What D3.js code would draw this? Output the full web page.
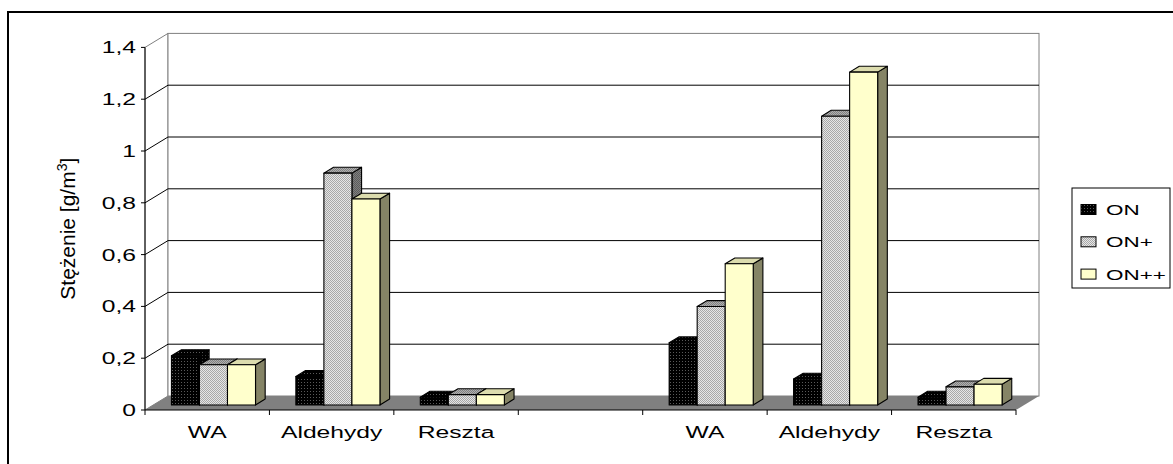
<!DOCTYPE html>
<html>
<head>
<meta charset="utf-8">
<script src="https://cdn.jsdelivr.net/npm/d3@7"></script>
<style>
  body { margin: 0; background: #fff; }
  text { font-family: "Liberation Sans", Arial, sans-serif; fill: #000; }
</style>
</head>
<body>
<div id="chart"></div>
<script>
// data
const categories = ["WA", "Aldehydy", "Reszta", "", "WA", "Aldehydy", "Reszta"];
const series = ["ON", "ON+", "ON++"];
const valuesON   = [0.19, 0.11, 0.03, null, 0.24, 0.10, 0.03];
const valuesONp  = [0.155, 0.895, 0.04, null, 0.38, 1.115, 0.07];
const valuesONpp = [0.155, 0.795, 0.04, null, 0.545, 1.285, 0.08];
const yTicks = [0, 0.2, 0.4, 0.6, 0.8, 1, 1.2, 1.4];
const allValues = [valuesON, valuesONp, valuesONpp];

const W = 1173, H = 464;
const SX = 1.45;            // the picture is stretched sideways, text too
const DX = 23, DY = 14;     // depth of the 3d box
const f0 = 0.36, f1 = 0.78; // bar front / back depth
const fmt = v => String(v).replace(".", ",");

const svg = d3.select("#chart").append("svg")
    .attr("width", W).attr("height", H);

const defs = svg.append("defs");
function pat(id, size, bg, dots, fg) {
    const p = defs.append("pattern").attr("id", id)
        .attr("width", size).attr("height", size)
        .attr("patternUnits", "userSpaceOnUse");
    p.append("rect").attr("width", size).attr("height", size).attr("fill", bg);
    dots.forEach(([x, y]) => p.append("rect").attr("x", x).attr("y", y)
        .attr("width", 1).attr("height", 1).attr("fill", fg));
}
pat("on", 3, "#000", [[1, 1]], "#5a5a5a");
pat("onside", 3, "#000", [[1, 1]], "#3a3a3a");
pat("onp", 2, "#e6e6e6", [[0, 0], [1, 1]], "#a8a8a8");
pat("onptop", 2, "#b0b0b0", [[0, 0], [1, 1]], "#808080");
pat("onpside", 2, "#808080", [[0, 0], [1, 1]], "#5c5c5c");

const faces = {
    "ON":   {front: "url(#on)",  top: "url(#on)",     side: "url(#onside)"},
    "ON+":  {front: "url(#onp)", top: "url(#onptop)", side: "url(#onpside)"},
    "ON++": {front: "#ffffcc",   top: "#dcdcae",      side: "#858466"}
};

// outer frame (cut off at right and bottom)
svg.append("rect")
    .attr("x", 8).attr("y", 12).attr("width", W + 20).attr("height", H + 20)
    .attr("fill", "none").attr("stroke", "#000").attr("stroke-width", 2);

const x = d3.scaleBand().domain(d3.range(categories.length)).range([145, 1016]);
const xs = d3.scaleBand().domain(series).range([0, x.bandwidth()])
    .paddingOuter(0.72).align(0.45);
const y = d3.scaleLinear().domain([0, 1.4]).range([410, 47.4]);

const x0 = x.range()[0], x1 = x.range()[1];
const yTop = y(1.4), yBot = y(0);

// walls
svg.append("polygon")
    .attr("points", [[x0, yBot], [x0 + DX, yBot - DY], [x0 + DX, yTop - DY], [x0, yTop]].join(" "))
    .attr("fill", "#fff").attr("stroke", "#808080");
svg.append("rect")
    .attr("x", x0 + DX).attr("y", yTop - DY)
    .attr("width", x1 - x0).attr("height", yBot - yTop)
    .attr("fill", "#fff").attr("stroke", "#808080");

// gridlines
const grid = svg.append("g");
yTicks.filter(v => v > 0 && v < 1.4).forEach(v => {
    grid.append("line")
        .attr("x1", x0).attr("y1", y(v)).attr("x2", x0 + DX).attr("y2", y(v) - DY)
        .attr("stroke", "#000");
    grid.append("line")
        .attr("x1", x0 + DX).attr("y1", y(v) - DY).attr("x2", x1 + DX).attr("y2", y(v) - DY)
        .attr("stroke", "#000");
});

// floor
svg.append("polygon")
    .attr("points", [[x0, yBot], [x1, yBot], [x1 + DX, yBot - DY], [x0 + DX, yBot - DY]].join(" "))
    .attr("fill", "#808080");

// axes
svg.append("line").attr("x1", x0).attr("x2", x0).attr("y1", yTop).attr("y2", yBot)
    .attr("stroke", "#000");
svg.append("line").attr("x1", x0).attr("x2", x1).attr("y1", yBot).attr("y2", yBot)
    .attr("stroke", "#000");
yTicks.forEach(v => {
    svg.append("line").attr("x1", x0 - 4).attr("x2", x0).attr("y1", y(v)).attr("y2", y(v))
        .attr("stroke", "#000");
    svg.append("text")
        .attr("transform", `translate(${x0 - 9},${y(v) + 6}) scale(${SX},1)`)
        .attr("text-anchor", "end")
        .style("font-size", "17px")
        .text(fmt(v));
});
d3.range(categories.length + 1).forEach(i => {
    const xx = x0 + i * x.step();
    svg.append("line").attr("x1", xx).attr("x2", xx).attr("y1", yBot).attr("y2", yBot + 5)
        .attr("stroke", "#000");
});
categories.forEach((c, i) => {
    svg.append("text")
        .attr("transform", `translate(${x(i) + x.bandwidth() / 2},${438}) scale(${SX},1)`)
        .attr("text-anchor", "middle")
        .style("font-size", "17px")
        .text(c);
});

// y title
const title = svg.append("text")
    .attr("transform", `translate(75,${(yTop + yBot) / 2}) rotate(-90)`)
    .attr("text-anchor", "middle")
    .style("font-size", "21px");
title.append("tspan").text("Stężenie [g/m");
title.append("tspan").attr("dy", -8).style("font-size", "14px").text("3");
title.append("tspan").attr("dy", 8).text("]");

// bars, left to right so the next bar hides the side of the previous one
const bars = svg.append("g").attr("stroke", "#000").attr("stroke-width", 1.1)
    .attr("stroke-linejoin", "round");
categories.forEach((c, i) => {
    series.forEach((s, k) => {
        const v = allValues[k][i];
        if (v == null) return;
        const bw = xs.bandwidth();
        const ax = x(i) + xs(s) + f0 * DX;
        const ay = y(v) - f0 * DY;
        const by = yBot - f0 * DY;
        const ddx = (f1 - f0) * DX, ddy = (f1 - f0) * DY;
        bars.append("polygon")
            .attr("points", [[ax + bw, ay], [ax + bw + ddx, ay - ddy], [ax + bw + ddx, by - ddy], [ax + bw, by]].join(" "))
            .attr("fill", faces[s].side);
        bars.append("polygon")
            .attr("points", [[ax, ay], [ax + ddx, ay - ddy], [ax + bw + ddx, ay - ddy], [ax + bw, ay]].join(" "))
            .attr("fill", faces[s].top);
        bars.append("rect")
            .attr("x", ax).attr("y", ay).attr("width", bw).attr("height", by - ay)
            .attr("fill", faces[s].front);
    });
});

// legend
const lg = svg.append("g");
lg.append("rect").attr("x", 1072).attr("y", 188).attr("width", 98).attr("height", 100)
    .attr("fill", "#fff").attr("stroke", "#000");
series.forEach((s, k) => {
    const cy = 209.5 + k * 32.3;
    lg.append("rect").attr("x", 1081).attr("y", cy - 5).attr("width", 15).attr("height", 10)
        .attr("fill", faces[s].front).attr("stroke", "#000");
    lg.append("text")
        .attr("transform", `translate(1106,${cy + 5.5}) scale(${SX},1)`)
        .style("font-size", "15.5px")
        .text(s);
});
</script>
</body>
</html>
